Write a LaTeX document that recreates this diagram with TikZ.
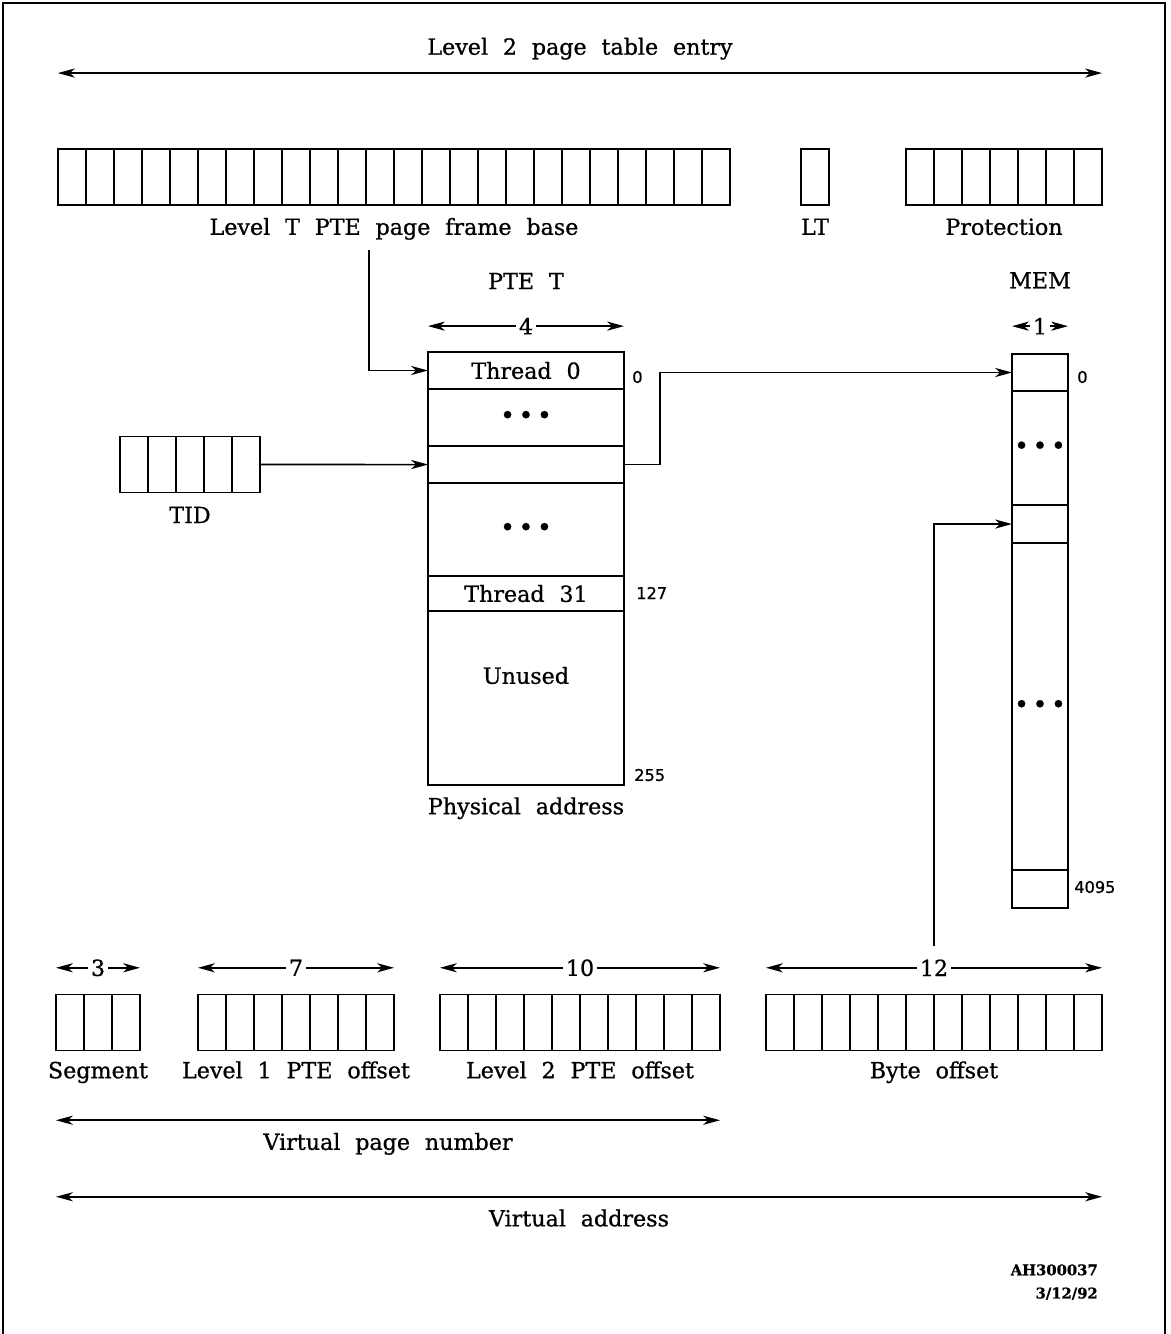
\documentclass[tikz,border=0pt]{standalone}
\usepackage{fontspec}
\setmainfont{DejaVu Serif}[WordSpace=2.1, FakeBold=0.8]
\newfontfamily\idxfont{DejaVu Sans}[FakeBold=1]
\usetikzlibrary{positioning, arrows.meta}

\newcommand{\threedots}{{\fontsize{18}{18}\selectfont\textbullet\hspace{2.5pt}\textbullet\hspace{2.5pt}\textbullet}}

\begin{document}
\begin{tikzpicture}[
    x=0.025cm, y=-0.025cm,
    every node/.style={font=\fontsize{15.8}{18}\selectfont},
    txt/.style={inner sep=1pt, text height=11.5pt, text depth=3.5pt},
    idx/.style={font=\idxfont\fontsize{11.5}{12}\selectfont, inner sep=0pt, anchor=west},
    tag/.style={font=\bfseries\fontsize{10.5}{16.5}\selectfont, align=right, inner sep=0pt},
    bits/.style={draw, line width=1.3pt, outer sep=0pt, inner sep=0pt,
        minimum width=#1*0.7cm, minimum height=1.4cm,
        path picture={\foreach \k in {1,...,#1}
            \draw[line width=1.2pt] ([xshift=\k*0.7cm]path picture bounding box.south west)
                -- ([xshift=\k*0.7cm]path picture bounding box.north west);}},
    row/.style={draw, line width=1.3pt, outer sep=0pt, inner sep=0pt, minimum width=4.9cm},
    memrow/.style={row, minimum width=1.4cm},
    conn/.style={-{Stealth[length=12pt, width=6.5pt, inset=3.5pt]}, line width=1.1pt},
    dim/.style={{Stealth[length=12pt, width=6.5pt, inset=3.5pt]}-{Stealth[length=12pt, width=6.5pt, inset=3.5pt]}, line width=1.1pt},
    dimlbl/.style={fill=white, inner sep=2pt}
]
\useasboundingbox (0,0) rectangle (1170,1334);

% frame
\draw[line width=2pt] (3,1334) -- (3,3) -- (1165,3) -- (1165,1334);

% Level 2 page table entry fields
\node[bits=24] (pfb)  at (394,177) {};
\node[bits=1]  (lt)   at (815,177) {};
\node[bits=7]  (prot) at (1004,177) {};
\node[txt, below=8.5pt of pfb]  (pfbname)  {Level T PTE page frame base};
\node[txt, below=8.5pt of lt]   (ltname)   {LT};
\node[txt, below=8.5pt of prot] (protname) {Protection};
\draw[dim] ([yshift=54pt]pfb.north west) -- ([yshift=54pt]prot.north east)
    node[midway, txt, above=8pt] (entryname) {Level 2 page table entry};

% PTE T table
\node[row, anchor=north, minimum height=0.925cm] (thr0) at (526,352) {Thread 0};
\node[row, below=0pt of thr0,  minimum height=1.425cm] (gap1)  {\threedots};
\node[row, below=0pt of gap1,  minimum height=0.925cm] (sel)   {};
\node[row, below=0pt of sel,   minimum height=2.325cm] (gap2)  {\threedots};
\node[row, below=0pt of gap2,  minimum height=0.875cm] (thr31) {Thread 31};
\node[row, below=0pt of thr31, minimum height=4.35cm]  (unused) {};
\node[txt, below=39pt of unused.north] (unusedname) {Unused};
\node[txt, above=40pt of thr0] (ptename) {PTE T};
\node[txt, below=8pt of unused] (physname) {Physical address};
\draw[dim] ([yshift=18.4pt]thr0.north west) -- ([yshift=18.4pt]thr0.north east)
    node[midway, dimlbl] (d4) {4};
\node[idx] (i0)   at (632,377) {0};
\node[idx] (i127) at (636,593) {127};
\node[idx] (i255) at (634,775) {255};

% MEM column
\node[memrow, anchor=north, minimum height=0.925cm] (mem0) at (1040,354) {};
\node[memrow, below=0pt of mem0,   minimum height=2.85cm]  (mgap1)   {\threedots};
\node[memrow, below=0pt of mgap1,  minimum height=0.95cm]  (memsel)  {};
\node[memrow, below=0pt of memsel, minimum height=8.175cm] (mgap2)   {\threedots};
\node[memrow, below=0pt of mgap2,  minimum height=0.95cm]  (memlast) {};
\node[txt, above=42pt of mem0] (memname) {MEM};
\draw[dim] ([yshift=19.8pt]mem0.north west) -- ([yshift=19.8pt]mem0.north east)
    node[midway, dimlbl] (d1) {1};
\node[idx] (m0)    at (1077,377) {0};
\node[idx] (m4095) at (1074,887) {4095};

% TID
\node[bits=5] (tid) at (190,464.5) {};
\node[txt, below=9pt of tid] (tidname) {TID};

% virtual address fields
\node[bits=3]  (seg)  at (98,1022.5) {};
\node[bits=7]  (l1)   at (296,1022.5) {};
\node[bits=10] (l2)   at (580,1022.5) {};
\node[bits=12] (byte) at (934,1022.5) {};
\node[txt, below=7pt of seg]  (segname)  {Segment};
\node[txt, below=7pt of l1]   (l1name)   {Level 1 PTE offset};
\node[txt, below=7pt of l2]   (l2name)   {Level 2 PTE offset};
\node[txt, below=7pt of byte] (bytename) {Byte offset};
\draw[dim] ([yshift=19pt]seg.north west) -- ([yshift=19pt]seg.north east)
    node[midway, dimlbl] (d3) {3};
\draw[dim] ([yshift=19pt]l1.north west) -- ([yshift=19pt]l1.north east)
    node[midway, dimlbl] (d7) {7};
\draw[dim] ([yshift=19pt]l2.north west) -- ([yshift=19pt]l2.north east)
    node[midway, dimlbl] (d10) {10};
\draw[dim] ([yshift=19pt]byte.north west) -- ([yshift=19pt]byte.north east)
    node[midway, dimlbl] (d12) {12};
\draw[dim] ([yshift=-49.6pt]seg.south west) -- ([yshift=-49.6pt]l2.south east)
    node[midway, txt, below=8pt] (vpnname) {Virtual page number};
\draw[dim] ([yshift=-104pt]seg.south west) -- ([yshift=-104pt]byte.south east)
    node[midway, txt, below=8pt] (vaname) {Virtual address};

% connectors
\coordinate (pfbtap) at (369,250);
\coordinate[above=7pt of d12] (bytetap);
\draw[conn] (pfbtap) |- (thr0.west);
\draw[conn] (tid.east) -- (sel.west);
\draw[conn] (sel.east) -- ++(36,0) |- (mem0.west);
\draw[conn] (bytetap) |- (memsel.west);

% figure tag
\node[tag, anchor=north east] (figtag) at (1098,1264) {AH300037\\3/12/92};

\end{tikzpicture}
\end{document}
